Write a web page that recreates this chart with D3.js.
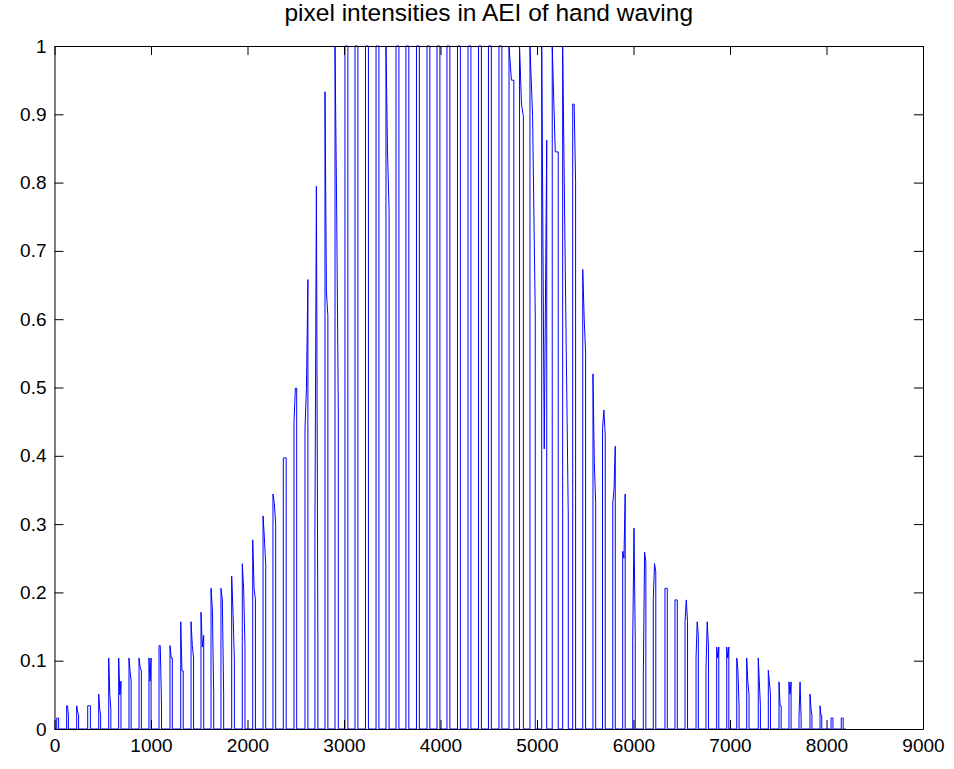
<!DOCTYPE html>
<html>
<head>
<meta charset="utf-8">
<script src="https://cdn.jsdelivr.net/npm/d3@7"></script>
<style>
  body { margin: 0; background: #fff; }
  text { font-family: Arial, "Liberation Sans", Helvetica, sans-serif; }
</style>
</head>
<body>
<svg id="chart" width="954" height="769"></svg>
<script>
// One pulse per image column: sample index where it rises, its width in samples,
// and the intensity at its left edge, middle and right edge.
const pulseStart = [23, 126, 230, 344, 458, 562, 665, 772, 876, 979,
  1083, 1197, 1308, 1415, 1518, 1622, 1725, 1836, 1946, 2054,
  2161, 2264, 2371, 2482, 2596, 2699, 2803, 2907, 3010, 3114,
  3223, 3332, 3435, 3539, 3642, 3751, 3860, 3964, 4067, 4176,
  4285, 4394, 4497, 4606, 4710, 4819, 4927, 5049, 5158, 5266,
  5370, 5474, 5580, 5679, 5785, 5888, 5992, 6102, 6205, 6326,
  6430, 6534, 6648, 6751, 6862, 6966, 7070, 7173, 7293, 7397,
  7508, 7611, 7715, 7829, 7933, 8047, 8153];
const pulseWidth = [20, 18, 20, 28, 20, 22, 24, 22, 24, 22,
  26, 24, 26, 26, 28, 28, 28, 28, 28, 28,
  28, 28, 30, 28, 30, 30, 30, 34, 30, 30,
  30, 30, 32, 30, 30, 30, 30, 30, 30, 30,
  30, 30, 30, 30, 50, 40, 55, 52, 62, 58,
  30, 30, 28, 28, 26, 26, 26, 26, 26, 24,
  24, 26, 24, 26, 22, 22, 24, 24, 22, 22,
  22, 22, 22, 20, 18, 20, 20];
const pulseRise = [0.016, 0.034, 0.034, 0.034, 0.051, 0.104, 0.104, 0.104, 0.104, 0.104,
  0.122, 0.122, 0.157, 0.157, 0.171, 0.206, 0.206, 0.224, 0.242, 0.277,
  0.312, 0.344, 0.397, 0.45, 0.44, 0.30, 0.933, 1, 1, 1,
  1, 1, 1, 1, 1, 1, 1, 1, 1, 1,
  1, 1, 1, 1, 1, 1, 1, 1, 1, 1,
  0.915, 0.673, 0.52, 0.44, 0.33, 0.26, 0.13, 0.08, 0.19, 0.206,
  0.189, 0.157, 0.104, 0.086, 0.12, 0.12, 0.104, 0.104, 0.104, 0.086,
  0.069, 0.069, 0.016, 0.051, 0.034, 0.016, 0.016];
const pulseMid = [0.016, 0.034, 0.025, 0.034, 0.03, 0.05, 0.05, 0.085, 0.09, 0.07,
  0.122, 0.104, 0.085, 0.122, 0.12, 0.176, 0.19, 0.171, 0.206, 0.206,
  0.28, 0.33, 0.397, 0.499, 0.5, 0.795, 0.64, 0.76, 1, 1,
  1, 1, 0.845, 1, 1, 1, 1, 1, 1, 1,
  1, 1, 1, 1, 0.95, 0.915, 0.897, 0.41, 0.845, 0.65,
  0.915, 0.6, 0.39, 0.467, 0.35, 0.25, 0.294, 0.259, 0.242, 0.206,
  0.189, 0.189, 0.157, 0.157, 0.104, 0.104, 0.086, 0.069, 0.069, 0.069,
  0.034, 0.051, 0.069, 0.03, 0.02, 0.016, 0.016];
const pulseFall = [0.016, 0.02, 0.02, 0.034, 0.02, 0.03, 0.07, 0.07, 0.085, 0.104,
  0.034, 0.104, 0.085, 0.104, 0.137, 0.05, 0.05, 0.1, 0.12, 0.19,
  0.24, 0.30, 0.397, 0.499, 0.658, 0.137, 0.605, 0.467, 1, 1,
  1, 1, 0.76, 1, 1, 1, 1, 1, 1, 1,
  1, 1, 1, 1, 0.95, 0.897, 0.606, 0.862, 0.845, 0.312,
  0.8, 0.55, 0.33, 0.43, 0.414, 0.344, 0.13, 0.245, 0.23, 0.206,
  0.189, 0.157, 0.137, 0.12, 0.12, 0.12, 0.034, 0.051, 0.034, 0.051,
  0.034, 0.069, 0.016, 0.02, 0.02, 0.016, 0.016];

const sampleCount = 8200;
const xTicks = [0, 1000, 2000, 3000, 4000, 5000, 6000, 7000, 8000, 9000];
const yTicks = [0, 0.1, 0.2, 0.3, 0.4, 0.5, 0.6, 0.7, 0.8, 0.9, 1];
const titleText = "pixel intensities in AEI of hand waving";

const margin = { left: 54.5, right: 923, top: 46, bottom: 729 };
const svg = d3.select("#chart");
svg.append("rect").attr("width", 954).attr("height", 769).attr("fill", "#fff");

const x = d3.scaleLinear().domain([0, 9000]).range([margin.left, margin.right]);
const y = d3.scaleLinear().domain([0, 1]).range([margin.bottom, margin.top]);

// Turn the pulse table into the intensity trace: baseline, rise, plateau, fall.
const trace = [[0, 0]];
pulseStart.forEach((s, i) => {
  const w = pulseWidth[i];
  trace.push([s, 0], [s, pulseRise[i]], [s + w / 2, pulseMid[i]],
             [s + w, pulseFall[i]], [s + w, 0]);
});
trace.push([sampleCount, 0]);

const plot = svg.append("g");
plot.append("clipPath").attr("id", "clip").append("rect")
  .attr("x", margin.left).attr("y", margin.top - 1)
  .attr("width", margin.right - margin.left).attr("height", margin.bottom - margin.top + 2);

plot.append("path")
  .datum(trace)
  .attr("clip-path", "url(#clip)")
  .attr("fill", "none")
  .attr("stroke", "#0000ff")
  .attr("stroke-width", 1)
  .attr("d", d3.line().x(d => x(d[0])).y(d => y(d[1])));

// Axes box with inward ticks on all four sides
const tickLen = 9;
const fmtY = d => (d === 0 || d === 1) ? String(d) : d.toFixed(1);

const axB = d3.axisBottom(x).tickValues(xTicks).tickSizeInner(-tickLen).tickSizeOuter(0).tickPadding(10).tickFormat(d3.format("d"));
const axT = d3.axisTop(x).tickValues(xTicks).tickSizeInner(-tickLen).tickSizeOuter(0).tickFormat("");
const axL = d3.axisLeft(y).tickValues(yTicks).tickSizeInner(-tickLen).tickSizeOuter(0).tickPadding(8).tickFormat(fmtY);
const axR = d3.axisRight(y).tickValues(yTicks).tickSizeInner(-tickLen).tickSizeOuter(0).tickFormat("");

function style(g) {
  g.select(".domain").attr("stroke", "#000").attr("stroke-width", 1);
  g.selectAll(".tick line").attr("stroke", "#000").attr("stroke-width", 1);
  g.selectAll(".tick text").attr("fill", "#000").style("font-size", "19px")
    .style("font-family", "Arial, 'Liberation Sans', Helvetica, sans-serif");
}

svg.append("g").attr("transform", `translate(0,${margin.bottom})`).call(axB).call(style);
svg.append("g").attr("transform", `translate(0,${margin.top})`).call(axT).call(style);
svg.append("g").attr("transform", `translate(${margin.left},0)`).call(axL).call(style);
svg.append("g").attr("transform", `translate(${margin.right},0)`).call(axR).call(style);

svg.append("text")
  .attr("x", (margin.left + margin.right) / 2)
  .attr("y", 21)
  .attr("text-anchor", "middle")
  .style("font-size", "24.5px")
  .attr("fill", "#000")
  .text(titleText);
</script>
</body>
</html>
